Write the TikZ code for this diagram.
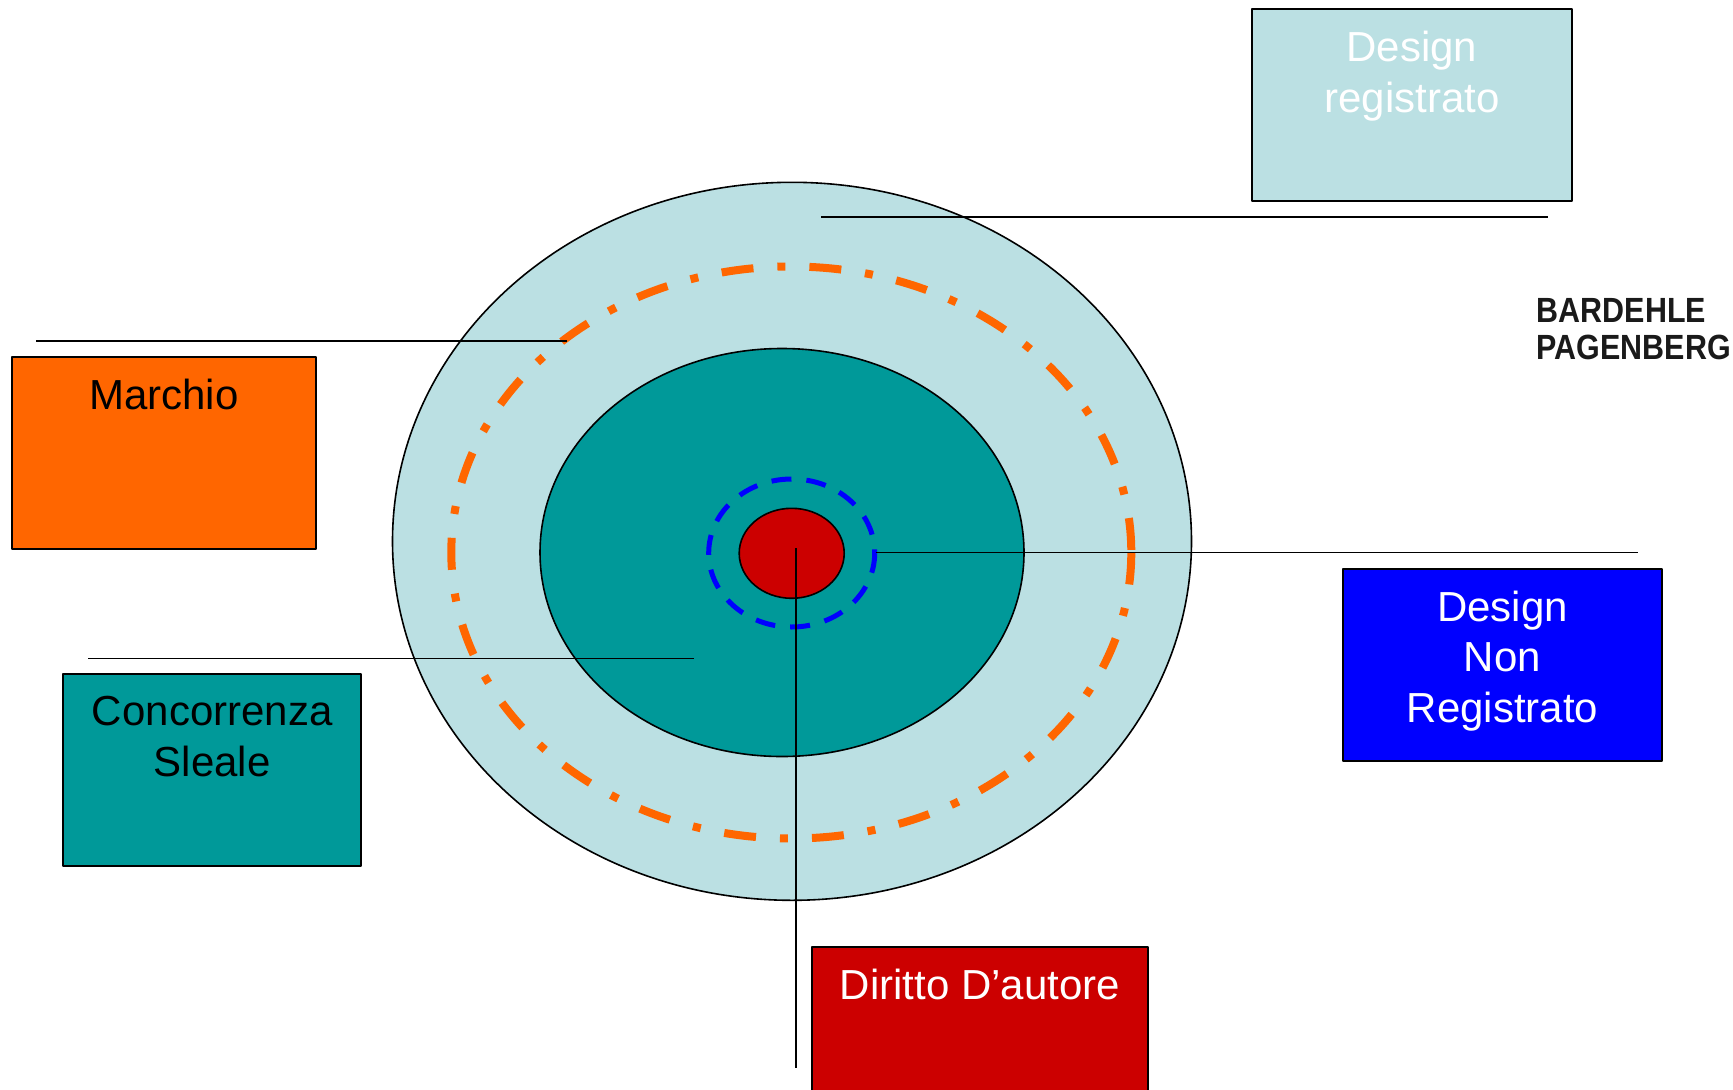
\documentclass[tikz,border=0pt]{standalone}
\usepackage{fontspec}
\setmainfont{Liberation Sans}
\definecolor{regblue}{HTML}{BBE0E3}
\definecolor{sleale}{HTML}{009999}
\definecolor{marchio}{HTML}{FF6600}
\definecolor{autore}{HTML}{CC0000}
\definecolor{nonreg}{HTML}{0000FF}
\definecolor{logoink}{HTML}{1A1A1A}
\begin{document}
\begin{tikzpicture}[x=1pt,y=-1pt, line join=round,
	box/.style={draw=black, line width=2pt, minimum height=192, inner sep=0pt},
	lbl/.style={font=\fontsize{42}{50.4}\selectfont, align=center, inner sep=0pt, anchor=north},
	wire/.style={line width=1.8pt},
	rim/.style={line width=1.6pt}]
			\useasboundingbox (0,0) rectangle (1733,1090);
			\filldraw[rim, fill=regblue] (792,541.3) ellipse [x radius=399.5, y radius=359];
			\draw[marchio, line width=8pt, dash pattern=on 32pt off 24pt on 8pt off 24pt] (791.3,552.5) ellipse [x radius=340, y radius=286];
			\filldraw[rim, fill=sleale] (782,552.5) ellipse [x radius=242, y radius=204];
			\draw[nonreg, line width=5pt, dash pattern=on 20pt off 15pt] (791.7,553) ellipse [x radius=83, y radius=74];
			\filldraw[rim, fill=autore] (791.7,553.3) ellipse [x radius=52.5, y radius=45];
			\path
			(821,217)coordinate(regA)
			(1548,217)coordinate(regB)
			(566.5,340.8)coordinate(marA)
			(36,340.8)coordinate(marB)
			(694,658.5)coordinate(conA)
			(87.7,658.5)coordinate(conB)
			(875.7,552.5)coordinate(nonA)
			(1637.7,552.5)coordinate(nonB)
			(796.3,548)coordinate(autA)
			(796.3,1068.3)coordinate(autB)
			;
			\foreach \a in {reg,mar,con,non,aut} \draw[wire](\a A)--(\a B);
			\foreach \n/\cx/\cy/\w/\fc/\tc/\txt in {
				reg/1412/105/320/regblue/white/{Design\\registrato},
				mar/164/452.8/303.4/marchio/black/{Marchio},
				con/212.2/770.3/297.7/sleale/black/{Concorrenza\\Sleale},
				non/1502.5/664.9/318.4/nonreg/white/{Design\\Non\\Registrato},
				aut/980/1042.7/335.4/autore/white/{Diritto D’autore}}
			{
				\node[box, fill=\fc, minimum width=\w] (\n box) at (\cx,\cy) {};
				\node[lbl, text=\tc] (\n) at ([yshift=-23pt]\n box.north) {\txt};
			}
			\node[font=\bfseries\fontsize{35}{37}\selectfont, text=logoink, align=left, anchor=north west, inner sep=0pt] (logo) at (1536.7,298) {\scalebox{0.87}[1]{BARDEHLE}\\\scalebox{0.87}[1]{PAGENBERG}};
			\end{tikzpicture}
\end{document}
